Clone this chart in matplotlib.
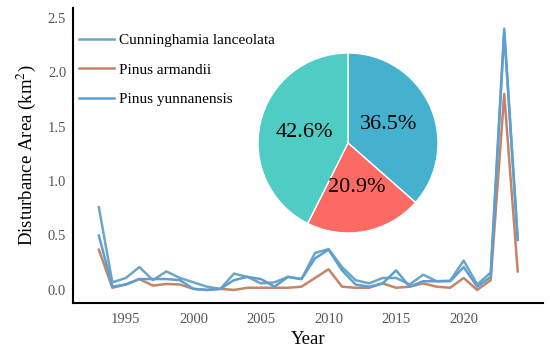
import numpy as np
import matplotlib
matplotlib.use('Agg')
import matplotlib.pyplot as plt

plt.rcParams['font.family'] = ['Liberation Serif', 'DejaVu Serif']
plt.rcParams['mathtext.fontset'] = 'stix'

years = list(range(1993, 2025))
cunninghamia = [0.76, 0.07, 0.11, 0.21, 0.09, 0.17, 0.11, 0.07, 0.03, 0.01,
                0.15, 0.12, 0.06, 0.07, 0.12, 0.10, 0.34, 0.375, 0.21, 0.09,
                0.06, 0.11, 0.11, 0.05, 0.14, 0.08, 0.085, 0.27, 0.05, 0.16,
                2.40, 0.46]
armandii = [0.37, 0.02, 0.05, 0.10, 0.04, 0.055, 0.05, 0.01, 0.0, 0.01,
            0.0, 0.02, 0.02, 0.02, 0.02, 0.03, 0.11, 0.19, 0.03, 0.02,
            0.02, 0.06, 0.02, 0.03, 0.06, 0.03, 0.02, 0.11, 0.0, 0.09,
            1.80, 0.17]
yunnanensis = [0.50, 0.03, 0.05, 0.10, 0.10, 0.10, 0.09, 0.01, 0.0, 0.01,
               0.09, 0.12, 0.10, 0.03, 0.12, 0.10, 0.29, 0.37, 0.18, 0.05,
               0.03, 0.06, 0.18, 0.03, 0.08, 0.08, 0.08, 0.21, 0.03, 0.12,
               2.37, 0.46]
species = ['Cunninghamia lanceolata', 'Pinus armandii', 'Pinus yunnanensis']
line_colors = ['#6CA6C1', '#C58468', '#5E9FD3']

pie_values = [36.5, 20.9, 42.6]
pie_colors = ['#45B1CF', '#FB6A63', '#4FCCC3']

fig = plt.figure(figsize=(5.5, 3.53), dpi=100)
ax = fig.add_axes([0.133, 0.1416, 0.855, 0.836])

for vals, lab, col in zip([cunninghamia, armandii, yunnanensis], species, line_colors):
    ax.plot(years, vals, color=col, lw=1.8, label=lab)

ax.set_xlim(1991.1, 2025.9)
ax.set_ylim(-0.12, 2.59)
ax.set_xticks([1995, 2000, 2005, 2010, 2015, 2020])
ax.set_yticks([0.0, 0.5, 1.0, 1.5, 2.0, 2.5])
ax.set_yticklabels(['0.0', '0.5', '1.0', '1.5', '2.0', '2.5'])
ax.tick_params(length=0, labelsize=10.5, labelcolor='#555555')
ax.tick_params(axis='x', pad=7)
ax.tick_params(axis='y', pad=5)
for s in ['top', 'right']:
    ax.spines[s].set_visible(False)
for s in ['left', 'bottom']:
    ax.spines[s].set_linewidth(1.5)
ax.set_xlabel('Year', fontsize=13.5, labelpad=4)
ax.set_ylabel('Disturbance Area (km$^2$)', fontsize=13.5, labelpad=7)

ax.legend(loc='upper left', bbox_to_anchor=(0.0, 0.935), frameon=False,
          fontsize=11, labelspacing=1.05, handlelength=2.3, handletextpad=0.3,
          borderaxespad=0.0)

pax = fig.add_axes([258 / 550, 120 / 353, 180 / 550, 180 / 353])
pax.pie(pie_values, colors=pie_colors, startangle=90, counterclock=False,
        autopct='%.1f%%', pctdistance=0.5,
        wedgeprops=dict(edgecolor='white', linewidth=1),
        textprops=dict(fontsize=16, color='black'))
pax.set_xlim(-1, 1)
pax.set_ylim(-1, 1)
pax.set_aspect('equal')

fig.savefig('out.png', dpi=100)
